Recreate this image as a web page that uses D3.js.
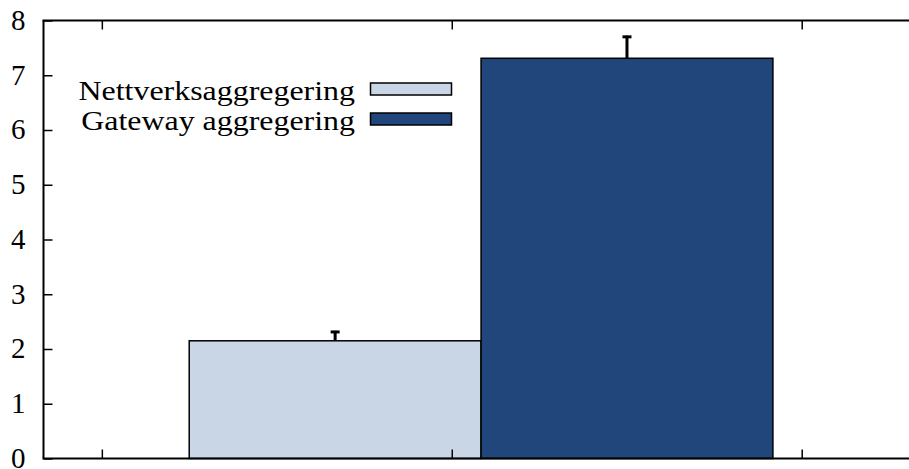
<!DOCTYPE html>
<html>
<head>
<meta charset="utf-8">
<script src="https://cdn.jsdelivr.net/npm/d3@7"></script>
<style>
  html, body { margin: 0; padding: 0; background: #fff; }
  svg { display: block; }
  text { font-family: "Liberation Serif", "Times New Roman", serif; fill: #000; }
</style>
</head>
<body>
<svg id="chart" width="909" height="469"></svg>
<script>
// Series names, values and upper error extents
const seriesNames = ["Nettverksaggregering", "Gateway aggregering"];
const seriesValues = [2.15, 7.31];
const seriesErrors = [0.18, 0.41];
const seriesColors = ["#c9d6e5", "#20467c"];
const yTicks = [0, 1, 2, 3, 4, 5, 6, 7, 8];
const xTicks = [-1, 0, 1];

const W = 909, H = 469;
const plotLeft = 43.5, plotTop = 20.5, plotBottom = 458.5;

const svg = d3.select("#chart");

const y = d3.scaleLinear().domain([0, 8]).range([plotBottom, plotTop]);
const x = d3.scaleLinear().domain([-1.1667, 1.3066]).range([plotLeft, W]);

// Bars sit side by side around the cluster centre
const clusterCentre = 0.0837, barWidth = 0.834;
const barX0 = i => clusterCentre + (i - seriesValues.length / 2) * barWidth;

// Error bars (drawn beneath the bars so only the upper part shows)
const eb = svg.append("g");
seriesValues.forEach((v, i) => {
  const cx = x(barX0(i) + barWidth / 2);
  eb.append("line")
    .attr("x1", cx).attr("x2", cx)
    .attr("y1", y(v - seriesErrors[i])).attr("y2", y(v + seriesErrors[i]))
    .attr("stroke", "#000").attr("stroke-width", 3);
  eb.append("line")
    .attr("x1", cx - 4.5).attr("x2", cx + 4.5)
    .attr("y1", y(v + seriesErrors[i]) + 1).attr("y2", y(v + seriesErrors[i]) + 1)
    .attr("stroke", "#000").attr("stroke-width", 3);
});

// Bars
svg.append("g").selectAll("rect")
  .data(seriesValues)
  .join("rect")
  .attr("x", (d, i) => x(barX0(i)))
  .attr("width", (d, i) => x(barX0(i) + barWidth) - x(barX0(i)))
  .attr("y", d => y(d))
  .attr("height", d => y(0) - y(d))
  .attr("fill", (d, i) => seriesColors[i])
  .attr("stroke", "#000")
  .attr("stroke-width", 1.5);

// Frame: left, top and bottom borders
const frame = svg.append("g").attr("stroke", "#000").attr("stroke-width", 2);
frame.append("line").attr("x1", plotLeft).attr("x2", plotLeft).attr("y1", plotTop).attr("y2", plotBottom);
frame.append("line").attr("x1", plotLeft - 1).attr("x2", W).attr("y1", plotTop).attr("y2", plotTop);
frame.append("line").attr("x1", plotLeft - 1).attr("x2", W).attr("y1", plotBottom).attr("y2", plotBottom);

// Y axis: inward ticks, labels on the left
const yAxis = d3.axisRight(y).tickValues(yTicks).tickSize(9).tickFormat("");
const yg = svg.append("g").attr("transform", `translate(${plotLeft},0)`).call(yAxis);
yg.select(".domain").remove();
yg.selectAll(".tick line").attr("stroke", "#000").attr("stroke-width", 1.5);

svg.append("g").selectAll("text")
  .data(yTicks)
  .join("text")
  .attr("x", 25.5)
  .attr("y", d => y(d))
  .attr("dy", "0.32em")
  .attr("text-anchor", "end")
  .attr("font-size", 29)
  .text(d => d);

// X ticks on bottom (upward) and top (downward), no labels
const xb = svg.append("g").attr("transform", `translate(0,${plotBottom})`)
  .call(d3.axisTop(x).tickValues(xTicks).tickSize(9).tickFormat(""));
xb.select(".domain").remove();
xb.selectAll(".tick line").attr("stroke", "#000").attr("stroke-width", 1.5);
const xt = svg.append("g").attr("transform", `translate(0,${plotTop})`)
  .call(d3.axisBottom(x).tickValues(xTicks).tickSize(9).tickFormat(""));
xt.select(".domain").remove();
xt.selectAll(".tick line").attr("stroke", "#000").attr("stroke-width", 1.5);

// Legend: slightly wide-set serif labels, right-aligned before the swatches
const legend = svg.append("g");
seriesNames.forEach((name, i) => {
  const ly = 100 + i * 30;
  legend.append("text")
    .attr("transform", `translate(355,${ly}) scale(1.14,1)`)
    .attr("text-anchor", "end")
    .attr("font-size", 28)
    .text(name);
  legend.append("rect")
    .attr("x", 370.5).attr("y", ly - 17)
    .attr("width", 81).attr("height", 12)
    .attr("fill", seriesColors[i])
    .attr("stroke", "#000").attr("stroke-width", 1.5);
});
</script>
</body>
</html>
